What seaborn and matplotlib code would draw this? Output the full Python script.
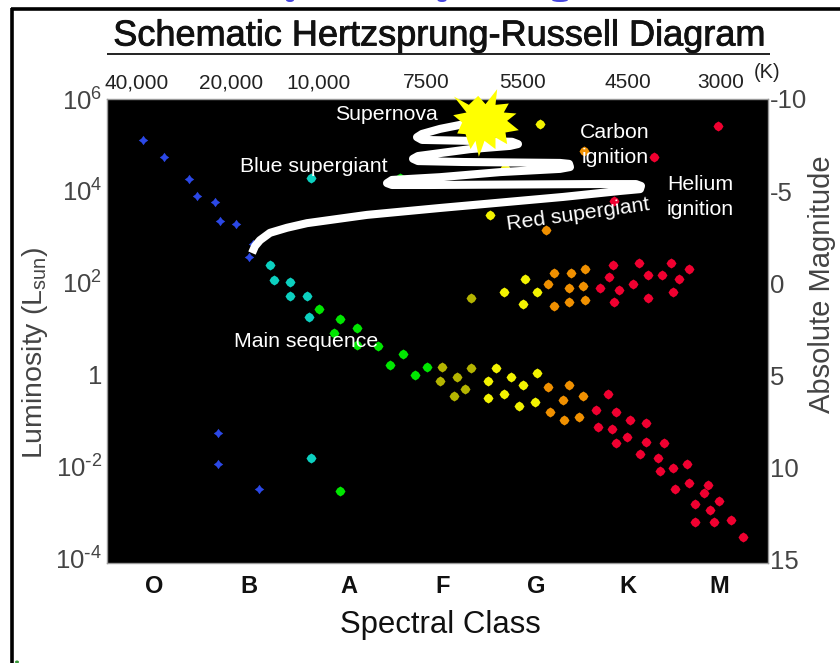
#!/usr/bin/env python3

import numpy as np
import matplotlib
matplotlib.use("Agg")
import matplotlib.pyplot as plt
import matplotlib.patheffects as pe
from matplotlib.path import Path
from matplotlib.patches import Ellipse
import seaborn as sns

# x is the position along the spectral sequence (O = 0)
# y is log10(L / Lsun)
blue_x = [-0.11, 0.10, 0.35, 0.43, 0.61, 0.66, 0.82, 0.99, 0.95, 0.64, 0.64, 1.05]
blue_y = [5.10, 4.74, 4.25, 3.88, 3.75, 3.34, 3.29, 2.85, 2.57, -1.26, -1.94, -2.48]

teal_x = [1.57, 1.16, 1.20, 1.36, 1.36, 1.53, 1.55, 1.57]
teal_y = [4.28, 2.39, 2.07, 2.03, 1.71, 1.71, 1.26, -1.80]

green_x = [1.65, 1.86, 2.03, 1.80, 2.03, 2.24, 2.49, 2.36, 2.73, 2.61, 2.46, 1.86]
green_y = [1.44, 1.22, 1.01, 0.91, 0.65, 0.63, 0.45, 0.22, 0.18, 0.00, 4.28, -2.53]

olive_x = [2.88, 2.86, 3.03, 3.17, 3.11, 3.00, 3.17]
olive_y = [0.18, -0.13, -0.04, 0.14, -0.31, -0.45, 1.67]

yellow_x = [3.42, 3.34, 3.57, 3.69, 3.50, 3.34, 3.65, 3.81, 3.83, 3.86, 3.36, 3.51,
            3.50, 3.71, 3.83, 3.69]
yellow_y = [0.14, -0.14, -0.04, -0.22, -0.41, -0.50, -0.68, -0.59, 0.04, 5.46, 3.47, 4.49,
            1.80, 2.08, 1.80, 1.54]

orange_x = [3.94, 4.15, 4.29, 4.09, 3.96, 4.10, 4.25, 4.30, 3.92, 4.00, 3.94, 4.17,
            4.31, 4.15, 4.29, 4.15, 4.31, 4.00]
orange_y = [-0.27, -0.22, -0.45, -0.54, -0.81, -0.99, -0.91, 4.88, 3.16, 2.22, 1.98, 2.22,
            2.30, 1.90, 1.94, 1.58, 1.62, 1.49]

red_x = [4.54, 4.42, 4.62, 4.76, 4.92, 4.44, 4.58, 4.73, 4.92, 5.10, 4.62, 4.86, 5.04, 5.06,
         5.19, 5.33, 5.35, 5.21, 5.54, 5.50, 5.65, 5.41, 5.56, 5.41, 5.60, 5.77, 5.89,
         5.64, 5.00, 4.60,
         4.59, 4.85, 5.17, 5.35, 4.55, 4.94, 5.08, 5.25, 4.46, 4.79, 4.65, 5.19, 4.60, 4.94]
red_y = [-0.41, -0.77, -0.81, -0.99, -1.04, -1.13, -1.17, -1.35, -1.45, -1.49, -1.49, -1.72,
         -1.80, -2.08, -2.03, -1.94, -2.35, -2.48, -2.39, -2.57, -2.75, -2.80, -2.93, -3.20,
         -3.20, -3.16, -3.52,
         5.41, 4.74, 3.79,
         2.39, 2.43, 2.43, 2.30, 2.12, 2.17, 2.17, 2.08, 1.90, 1.98, 1.85, 1.80, 1.58, 1.67]

# evolutionary track of the massive star, main sequence up to the supernova
track_x = [0.98, 1.01, 1.06, 1.16, 1.33, 1.53, 2.13, 2.86, 4.09, 4.66, 4.86, 4.87, 4.82, 4.36,
           2.76, 2.38, 2.33, 2.38, 2.86, 3.46, 4.06, 4.16, 4.15, 4.06, 3.09, 2.64, 2.59, 2.64,
           3.16, 3.56, 3.64, 3.58, 3.16, 2.68, 2.63, 2.68, 2.86, 3.16]
track_y = [2.65, 2.80, 2.93, 3.09, 3.20, 3.30, 3.48, 3.63, 3.87, 4.00, 4.04, 4.11, 4.15, 4.15,
           4.13, 4.13, 4.17, 4.24, 4.30, 4.41, 4.48, 4.52, 4.59, 4.61, 4.63, 4.65, 4.70, 4.76,
           4.91, 4.98, 5.02, 5.07, 5.09, 5.11, 5.17, 5.24, 5.35, 5.48]

supernova_x = [3.31]
supernova_y = [5.50]
# outline of the burst, tips and notches in turn
burst_dx = [-95, -50, -22, 0, 35, 30, 70, 55, 93, 65, 100, 60, 65, 30, 30, -3, -20, -30, -45, -60, -85, -70, -97, -57]
burst_dy = [78, 53, 80, 55, 100, 53, 57, 30, 27, 5, -23, -30, -65, -45, -80, -55, -103, -55, -80, -35, -33, 0, 22, 30]

spectral_pos = [0.00, 0.95, 1.95, 2.89, 3.82, 4.74, 5.65]
spectral_labels = ["O", "B", "A", "F", "G", "K", "M"]

temp_pos = [-0.17, 0.77, 1.64, 2.72, 3.69, 4.74, 5.67]
temp_labels = ["40,000", "20,000", "10,000", "7500", "5500", "4500", "3000"]

lum_ticks = [6, 4, 2, 0, -2, -4]
lum_labels = ["10$^{6}$", "10$^{4}$", "10$^{2}$", "1", "10$^{\\text{-}2}$", "10$^{\\text{-}4}$"]

mag_ticks = [-10, -5, 0, 5, 10, 15]
mag_labels = ["-10", "-5", "0", "5", "10", "15"]

note_text = ["Supernova", "Blue supergiant", "Carbon\nignition", "Helium\nignition",
             "Red supergiant", "Main sequence"]
note_x = [2.32, 1.60, 4.61, 5.46, 4.24, 1.52]
note_y = [5.66, 4.53, 5.00, 3.87, 3.49, 0.72]
note_rot = [0, 0, 0, 0, 8, 0]

sns.set_theme(style="white")
plt.rcParams['font.family'] = ['Liberation Sans', 'DejaVu Sans']
plt.rcParams['mathtext.default'] = 'regular'
plt.rcParams['axes.unicode_minus'] = False

W, H = 840, 663
fig = plt.figure(figsize=(W / 100, H / 100), dpi=100, facecolor='white')

L, R, T, B = 106.5, 767.5, 99, 563
ax = fig.add_axes([L / W, 1 - B / H, (R - L) / W, (B - T) / H], facecolor='black')
ax.set_xlim((L - 154) / 100, (R - 154) / 100)
ax.set_ylim(-4.09, 6.0)
for spine in ax.spines.values():
    spine.set_color('#999999')
    spine.set_linewidth(1)

# the stars are soft little blobs: a dimpled cross for the hot ones, a rounded diamond for the rest
cross = Path([(1, 0), (.42, .42), (0, 1), (-.42, .42), (-1, 0), (-.42, -.42), (0, -1), (.42, -.42), (1, 0)],
             closed=True)
blob = Path([(1, 0), (.62, .62), (0, 1), (-.62, .62), (-1, 0), (-.62, -.62), (0, -1), (.62, -.62), (1, 0)],
            closed=True)

groups = [
    (blue_x, blue_y, '#2b48e6', cross, 46),
    (teal_x, teal_y, '#0cd0c0', blob, 52),
    (green_x, green_y, '#00e600', blob, 52),
    (olive_x, olive_y, '#b4b400', blob, 52),
    (yellow_x, yellow_y, '#f2f200', blob, 52),
    (orange_x, orange_y, '#f09000', blob, 52),
    (red_x, red_y, '#f00030', blob, 52),
]
for xs, ys, colour, marker, size in groups:
    sns.scatterplot(x=xs, y=ys, color=colour, marker=marker, s=size, linewidth=0,
                    ax=ax, legend=False, zorder=3)

ax.plot(track_x, track_y, color='white', lw=5.8, solid_capstyle='butt',
        solid_joinstyle='round', zorder=4)

burst = Path(np.column_stack([burst_dx + burst_dx[:1], burst_dy + burst_dy[:1]]), closed=True)
sns.scatterplot(x=supernova_x, y=supernova_y, color='#ffff00', marker=burst, s=2440, linewidth=0,
                ax=ax, legend=False, zorder=5, clip_on=False)

for text, x, y, rot in zip(note_text, note_x, note_y, note_rot):
    ax.text(x, y, text, color='white', fontsize=15.3, ha='center', va='center',
            rotation=rot, linespacing=1.35, zorder=6)

ax.set_xticks(spectral_pos)
ax.set_xticklabels(spectral_labels, fontsize=17, fontweight='bold', color='#111111')
ax.set_yticks(lum_ticks)
ax.set_yticklabels(lum_labels, fontsize=18.5, color='#444444')
ax.tick_params(axis='x', length=0, pad=8.5)
ax.tick_params(axis='y', length=0, pad=3)
ax.set_xlabel('Spectral Class', fontsize=22.4, color='#111111', labelpad=8.5, x=0.5045)
ax.set_ylabel('Luminosity (L$_{sun}$)', fontsize=20.5, color='#444444', labelpad=4, y=0.453)

top = ax.secondary_xaxis('top')
top.set_xticks(temp_pos)
top.set_xticklabels(temp_labels, fontsize=15, color='#222222')
top.tick_params(axis='x', length=0, pad=5)
top.spines['top'].set_visible(False)

right = ax.twinx()
right.set_ylim(15.2, -10)
right.set_yticks(mag_ticks)
right.set_yticklabels(mag_labels, fontsize=18.5, color='#444444')
right.tick_params(axis='y', length=0, pad=2)
right.set_ylabel('Absolute Magnitude', fontsize=21, color='#444444', labelpad=0, y=0.60)
right.grid(False)
for spine in right.spines.values():
    spine.set_visible(False)

# page furniture in pixel coordinates: frame, title rule, clipped bits of the slide
page = fig.add_axes([0, 0, 1, 1], facecolor='none')
page.set_xlim(0, W)
page.set_ylim(H, 0)
page.axis('off')
page.plot([12, 12], [8, H], color='black', lw=2.6, solid_capstyle='butt')
page.plot([11, W], [8.5, 8.5], color='black', lw=2.6, solid_capstyle='butt')
page.plot([107, 770], [54, 54], color='#222222', lw=1.4, solid_capstyle='butt')
page.text(439, 36, 'Schematic Hertzsprung-Russell Diagram', fontsize=26, color='#111111',
          ha='center', va='center',
          path_effects=[pe.withStroke(linewidth=0.6, foreground='#111111')])
page.text(767, 73, '(K)', fontsize=14.5, color='#222222', ha='center', va='center')
for cx, wd in zip([290, 442, 560], [8, 9, 16]):
    page.add_patch(Ellipse((cx, 0), wd, 4, color='#4646e0', lw=0))
page.add_patch(Ellipse((17, 662), 4, 3, color='#3a9a3a', lw=0))

plt.savefig('out.png', dpi=100)
plt.close()
